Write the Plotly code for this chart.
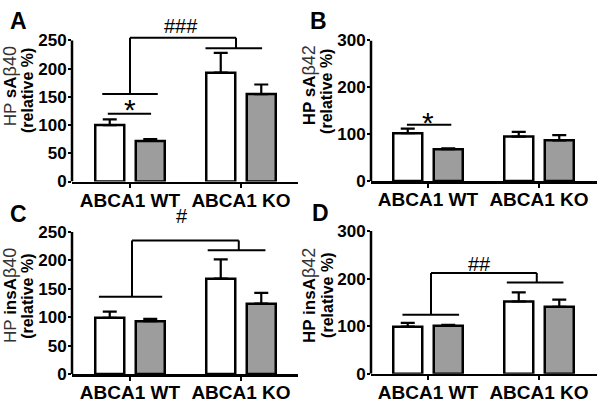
import plotly.graph_objects as go

# ---------------- data ----------------
categories = ["ABCA1 WT", "ABCA1 KO"]

A_open = [100, 193]
A_open_err = [10, 35]
A_filled = [72, 155]
A_filled_err = [3, 17]

B_open = [102, 95]
B_open_err = [10, 10]
B_filled = [68, 87]
B_filled_err = [2, 11]

C_open = [99, 168]
C_open_err = [11, 34]
C_filled = [93, 124]
C_filled_err = [4, 19]

D_open = [99, 152]
D_open_err = [8, 19]
D_filled = [101, 141]
D_filled_err = [2, 15]

yticks_A = [0, 50, 100, 150, 200, 250]
yticks_B = [0, 100, 200, 300]
yticks_C = [0, 50, 100, 150, 200, 250]
yticks_D = [0, 100, 200, 300]

# significance marks (category-index x, value y)
A_star_line = (-0.20, 0.19, 120)
A_star_text = ("*", 0.0, 127)
A_link = dict(wt=(-0.25, 0.25, 155), ko=(0.68, 1.19, 236), xa=0.0, xb=0.955, top=255)
A_link_text = ("###", 0.46, 275)

B_star_line = (-0.19, 0.21, 120)
B_star_text = ("*", 0.0, 125)

C_link = dict(wt=(-0.28, 0.29, 136), ko=(0.70, 1.22, 218), xa=0.018, xb=0.98, top=235)
C_link_text = ("#", 0.47, 279)

D_link = dict(wt=(-0.23, 0.28, 124), ko=(0.71, 1.22, 192), xa=0.027, xb=0.98, top=212)
D_link_text = ("##", 0.46, 230)

# ---------------- layout geometry ----------------
W, H = 600, 406
FONT = "Liberation Sans"
GRAY = "#9d9d9d"

def py(ypx):
    return 1 - ypx / H

panels = [
    dict(key="A", ax="", xl=72, xr=298, c0=130, zero=181, mx=33, ymax=250, rtop=285,
         open=A_open, open_err=A_open_err, filled=A_filled, filled_err=A_filled_err, ticks=yticks_A),
    dict(key="B", ax="2", xl=371, xr=597, c0=428, zero=180.5, mx=33, ymax=300, rtop=300,
         open=B_open, open_err=B_open_err, filled=B_filled, filled_err=B_filled_err, ticks=yticks_B),
    dict(key="C", ax="3", xl=72, xr=298, c0=130, zero=383, mx=234, ymax=250, rtop=285,
         open=C_open, open_err=C_open_err, filled=C_filled, filled_err=C_filled_err, ticks=yticks_C),
    dict(key="D", ax="4", xl=371, xr=597, c0=428, zero=382.7, mx=233, ymax=300, rtop=300,
         open=D_open, open_err=D_open_err, filled=D_filled, filled_err=D_filled_err, ticks=yticks_D),
]
UNIT = 111.0

fig = go.Figure()
layout = dict(width=W, height=H, margin=dict(l=0, r=0, t=0, b=0),
              paper_bgcolor="white", plot_bgcolor="rgba(0,0,0,0)",
              barmode="group", bargap=0.27, bargroupgap=0.284,
              showlegend=False, font=dict(family=FONT, color="black"))
shapes = []
annotations = []

for p in panels:
    xa = "x" + p["ax"]
    ya = "y" + p["ax"]
    ppu = (p["zero"] - p["mx"]) / p["ymax"]
    top_px = p["zero"] - p["rtop"] * ppu
    xdom = [p["xl"] / W, p["xr"] / W]
    ydom = [py(p["zero"]), py(top_px)]
    xr = [(p["xl"] - p["c0"]) / UNIT, (p["xr"] - p["c0"]) / UNIT]
    for vals, errs, col, nm in [(p["open"], p["open_err"], "white", "open"),
                                (p["filled"], p["filled_err"], GRAY, "filled")]:
        fig.add_trace(go.Bar(
            x=categories, y=vals, name=nm, xaxis=xa, yaxis=ya,
            marker=dict(color=col, line=dict(color="black", width=2.5)),
            error_y=dict(type="data", symmetric=False, array=errs,
                         arrayminus=[0] * len(errs), color="black",
                         thickness=2.2, width=7),
        ))
    layout["xaxis" + p["ax"]] = dict(
        domain=xdom, range=xr, type="category", anchor=ya,
        showline=True, linecolor="black", linewidth=2.5,
        ticks="outside", ticklen=4, tickwidth=1.5, tickcolor="black",
        ticklabelstandoff=-4,
        tickfont=dict(family=FONT, size=19, weight="bold", color="black"),
        showgrid=False, zeroline=False, fixedrange=True)
    layout["yaxis" + p["ax"]] = dict(
        domain=ydom, range=[0, p["rtop"]], anchor=xa,
        tickvals=p["ticks"], showline=False,
        ticks="outside", ticklen=3, tickwidth=2, tickcolor="black",
        ticklabelstandoff=-2,
        tickfont=dict(family=FONT, size=17, weight="bold", color="black"),
        showgrid=False, zeroline=False, fixedrange=True)
    shapes.append(dict(type="line", xref=xa + " domain", yref=ya,
                       x0=0, x1=0, y0=0, y1=p["ymax"],
                       line=dict(color="black", width=2.5)))

def hline(xa, ya, x0, x1, y):
    shapes.append(dict(type="line", xref=xa, yref=ya, x0=x0, x1=x1, y0=y, y1=y,
                       line=dict(color="black", width=2)))

def vline(xa, ya, x, y0, y1):
    shapes.append(dict(type="line", xref=xa, yref=ya, x0=x, x1=x, y0=y0, y1=y1,
                       line=dict(color="black", width=2)))

def link(xa, ya, L):
    hline(xa, ya, *L["wt"])
    hline(xa, ya, *L["ko"])
    vline(xa, ya, L["xa"], L["wt"][2], L["top"])
    hline(xa, ya, L["xa"], L["xb"], L["top"])
    vline(xa, ya, L["xb"], L["top"], L["ko"][2])

def sig_text(xa, ya, t, size):
    annotations.append(dict(text=t[0], x=t[1], y=t[2], xref=xa, yref=ya,
                            showarrow=False, xanchor="center", yanchor="middle",
                            borderpad=0,
                            font=dict(family=FONT, size=size, color="black")))

hline("x", "y", *A_star_line)
sig_text("x", "y", A_star_text, 30)
link("x", "y", A_link)
sig_text("x", "y", A_link_text, 20)

hline("x2", "y2", *B_star_line)
sig_text("x2", "y2", B_star_text, 30)

link("x3", "y3", C_link)
sig_text("x3", "y3", C_link_text, 20)

link("x4", "y4", D_link)
sig_text("x4", "y4", D_link_text, 20)

# panel letters
for letter, xpx, ypx in [("A", 18, 13), ("B", 318, 13), ("C", 18, 215), ("D", 320, 214)]:
    annotations.append(dict(text="<b>%s</b>" % letter, x=xpx / W, y=py(ypx),
                            xref="paper", yref="paper", showarrow=False,
                            xanchor="center", yanchor="middle",
                            font=dict(family=FONT, size=23, color="black")))

# y axis titles (two rotated lines each)
REG = "<span style='color:#333'>%s</span>"
BETA = "<span style='color:#333;font-size:18px'>%s</span>"
titles = [
    (REG % "HP " + "<b>sA</b>" + BETA % "β40", 10, 81, 28, 86),
    ("<b>HP sA</b>" + BETA % "β42", 309, 80, 327, 87),
    (REG % "HP " + "<b>insA</b>" + BETA % "β40", 10, 301, 28, 302),
    ("<b>HP insA</b>" + BETA % "β42", 309, 301, 328, 301),
]
for t1, x1, y1, x2, y2 in titles:
    annotations.append(dict(text=t1, x=x1 / W, y=py(y1), xref="paper", yref="paper",
                            showarrow=False, textangle=-90, xanchor="center", yanchor="middle",
                            borderpad=0,
                            font=dict(family=FONT, size=17, color="black")))
    annotations.append(dict(text="<b>(relative %)</b>", x=x2 / W, y=py(y2), xref="paper",
                            yref="paper", showarrow=False, textangle=-90,
                            xanchor="center", yanchor="middle", borderpad=0,
                            font=dict(family=FONT, size=16, color="black")))

layout["shapes"] = shapes
layout["annotations"] = annotations
fig.update_layout(**layout)
fig.write_html("out.html", config={"displayModeBar": False, "staticPlot": True},
               post_script="document.body.style.margin='0px';")
